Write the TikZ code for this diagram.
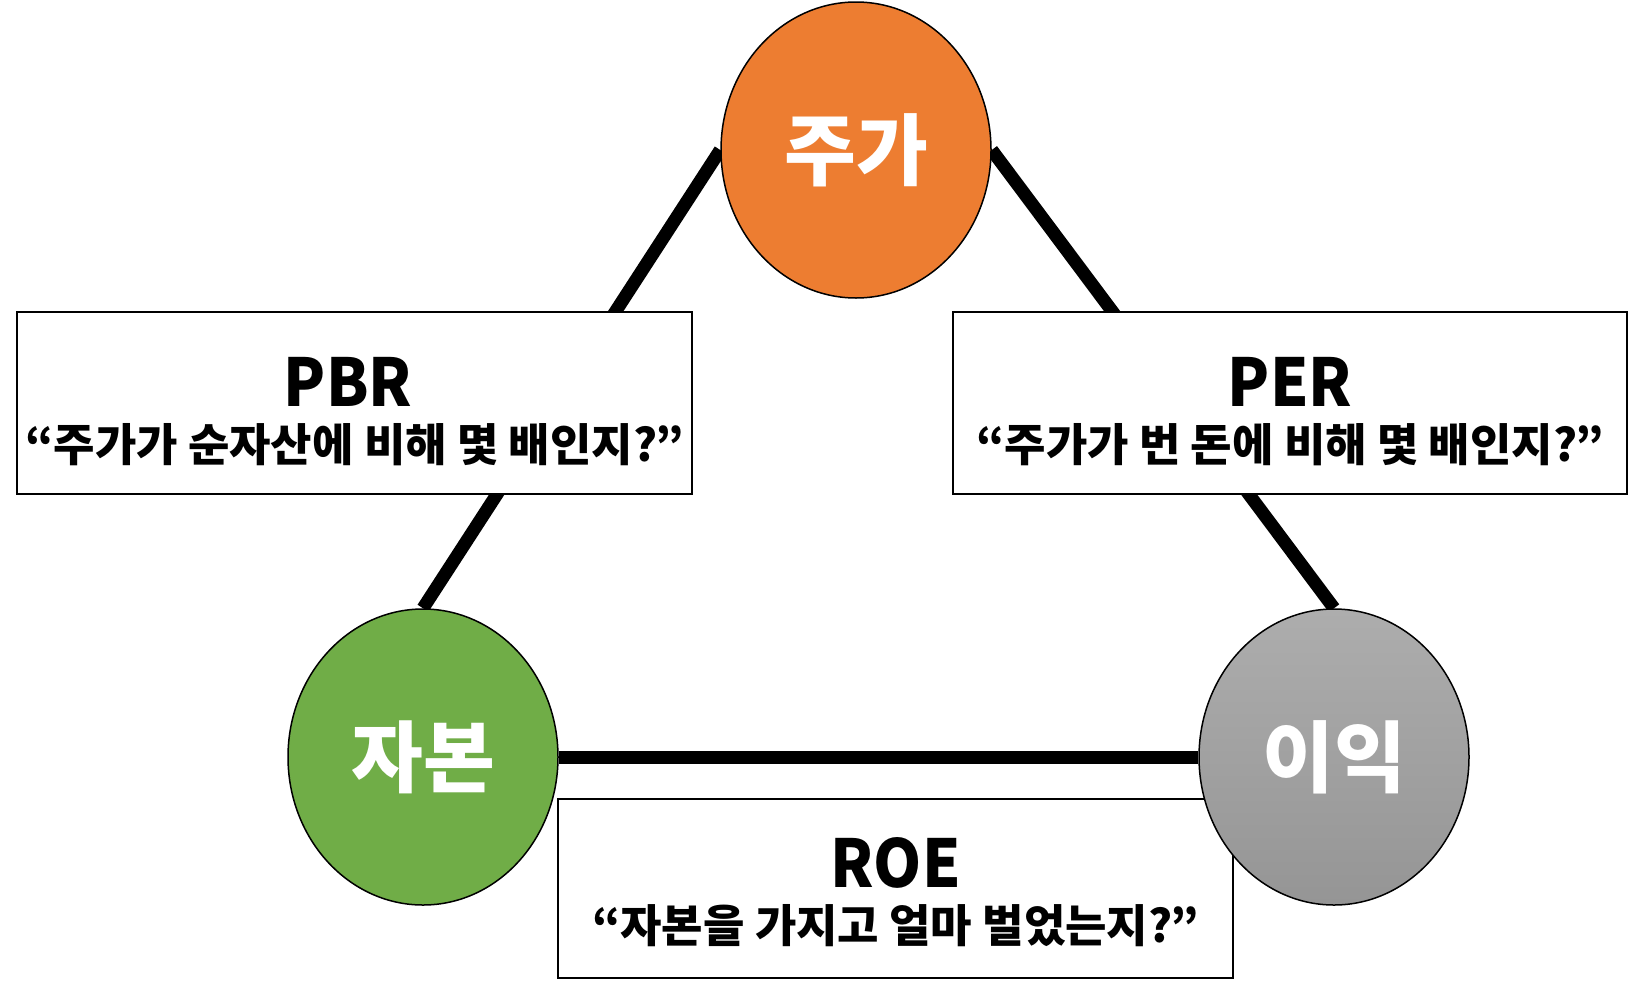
\documentclass[tikz,border=0pt]{standalone}
\usepackage{fontspec}
\usepackage{graphicx}
\newfontfamily\kr{Noto Sans CJK KR}
\usetikzlibrary{shapes.geometric,backgrounds}
\definecolor{orng}{HTML}{ED7D31}
\definecolor{grn}{HTML}{70AD47}
\definecolor{gtop}{HTML}{ADADAD}
\definecolor{gbot}{HTML}{959595}
\newcommand{\narrowtxt}[1]{\scalebox{0.93}[1]{#1}}
\begin{document}
\begin{tikzpicture}[x=1pt,y=-1pt,
  circ/.style={ellipse, draw=black, line width=1.5pt, minimum width=270pt, minimum height=296pt, inner sep=0pt, font=\kr\bfseries\fontsize{78}{80}\selectfont, text=white},
  infobox/.style={rectangle, draw=black, line width=2pt, fill=white, inner sep=0pt},
  ttl/.style={font=\kr\bfseries\fontsize{66}{70}\selectfont, inner sep=0pt},
  subt/.style={font=\kr\bfseries\fontsize{45}{50}\selectfont, inner sep=0pt},
  link/.style={line width=13pt, draw=black}]
\useasboundingbox (0,0) rectangle (1629,980);
% boxes
\node[infobox, minimum width=675pt, minimum height=182pt] (pbr) at (354.5,403) {};
\node[infobox, minimum width=674pt, minimum height=182pt] (per) at (1290,403) {};
\node[infobox, minimum width=675pt, minimum height=179pt] (roe) at (895.5,888.5) {};
\node[ttl] (pbrt) at (348,382) {\narrowtxt{PBR}};
\node[subt] (pbrs) at (354.5,445) {“주가가 순자산에 비해 몇 배인지?”};
\node[ttl] (pert) at (1290,382) {\narrowtxt{PER}};
\node[subt] (pers) at (1290,445) {“주가가 번 돈에 비해 몇 배인지?”};
\node[ttl] (roet) at (895.5,863) {\narrowtxt{ROE}};
\node[subt] (roes) at (895.5,926) {“자본을 가지고 얼마 벌었는지?”};
% circles
\node[circ, fill=orng] (top) at (856,150) {주가};
\node[circ, fill=grn] (left) at (423,757) {자본};
\node[circ, top color=gtop, bottom color=gbot] (right) at (1334,757) {이익};
\begin{scope}[on background layer]
\fill[white] (0,0) rectangle (1629,980);
\draw[link] (top.west) -- (left.north);
\draw[link] (top.east) -- (right.north);
\draw[link] (left.east) -- (right.west);
\end{scope}
\end{tikzpicture}
\end{document}
